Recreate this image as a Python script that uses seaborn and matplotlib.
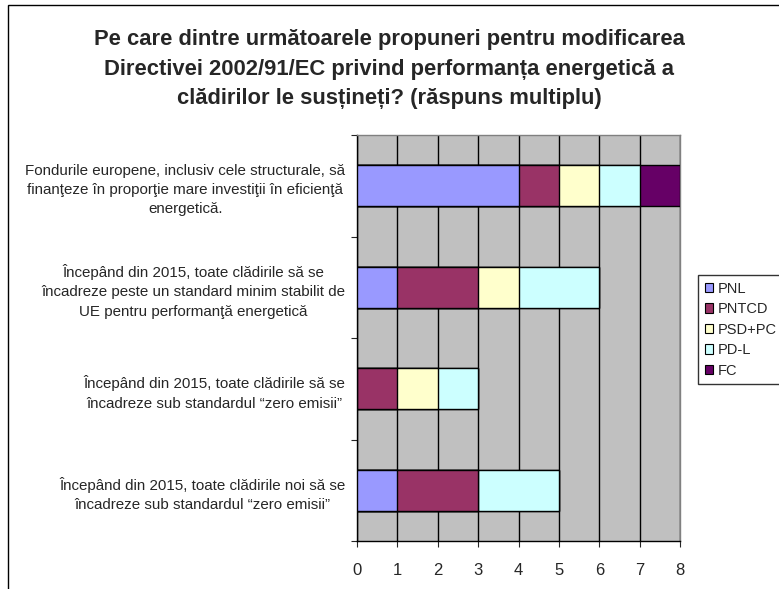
import numpy as np
import pandas as pd
import matplotlib
matplotlib.use("Agg")
import matplotlib.pyplot as plt
import matplotlib.patches as patches
import seaborn as sns

# date
propuneri = [
    "Fondurile europene, inclusiv cele structurale, să\nfinanţeze în proporţie mare investiţii în eficienţă\nenergetică.",
    "Începând din 2015, toate clădirile să se\nîncadreze peste un standard minim stabilit de\nUE pentru performanţă energetică",
    "Începând din 2015, toate clădirile să se\nîncadreze sub standardul \u201czero emisii\u201d",
    "Începând din 2015, toate clădirile noi să se\nîncadreze sub standardul \u201czero emisii\u201d",
]
partide = ["PNL", "PNTCD", "PSD+PC", "PD-L", "FC"]
pnl = [4, 1, 0, 1]
pntcd = [1, 2, 1, 2]
psd_pc = [1, 1, 1, 0]
pdl = [1, 2, 1, 2]
fc = [1, 0, 0, 0]
culori = ["#9999FF", "#993366", "#FFFFCC", "#CCFFFF", "#660066"]

df = pd.DataFrame({"propunere": propuneri, "PNL": pnl, "PNTCD": pntcd,
                   "PSD+PC": psd_pc, "PD-L": pdl, "FC": fc})
cumul = df[partide].cumsum(axis=1)

sns.set_style("white")
plt.rcParams["font.family"] = ["Liberation Sans", "DejaVu Sans"]

fig = plt.figure(figsize=(7.79, 5.89), dpi=100)
ax = fig.add_axes([357 / 779, 1 - 541 / 589, 323 / 779, 406 / 589])
ax.set_facecolor("#C0C0C0")

# bare suprapuse: totalul cumulat, de la ultimul partid spre primul
for partid, culoare in reversed(list(zip(partide, culori))):
    sns.barplot(x=cumul[partid], y=df["propunere"], orient="h", color=culoare,
                width=0.4, edgecolor="black", linewidth=1, saturation=1, ax=ax, zorder=3)

ax.set_xlim(0, 8)
ax.set_ylim(3.5, -0.5)
ax.set_xticks(range(9))
ax.tick_params(axis="x", labelsize=12, length=4, direction="out", bottom=True, pad=12)
ax.xaxis.grid(True, color="black", linewidth=1, zorder=0)
ax.set_axisbelow(True)

ax.set_yticks([-0.5, 0.5, 1.5, 2.5, 3.5])
ax.set_yticklabels([])
ax.set_yticks(range(4), minor=True)
ax.set_yticklabels(propuneri, minor=True)
ax.tick_params(axis="y", which="major", length=4, direction="out", left=True)
ax.tick_params(axis="y", which="minor", length=0, pad=8.5, labelsize=10.9)
for lbl in ax.get_yticklabels(minor=True):
    lbl.set_multialignment("center")
    lbl.set_linespacing(1.48)
ax.set_xlabel("")
ax.set_ylabel("")

for s in ["left", "bottom"]:
    ax.spines[s].set_color("black")
    ax.spines[s].set_linewidth(1)
for s in ["top", "right"]:
    ax.spines[s].set_color("#808080")
    ax.spines[s].set_linewidth(1)

fig.text(389 / 779, 1 - 69 / 589,
         "Pe care dintre următoarele propuneri pentru modificarea\n"
         "Directivei 2002/91/EC privind performanța energetică a\n"
         "clădirilor le susțineți? (răspuns multiplu)",
         ha="center", va="center", fontsize=15.8, fontweight="bold", linespacing=1.55)

handles = [patches.Patch(facecolor=c, edgecolor="black", linewidth=0.8, label=p)
           for p, c in zip(partide, culori)]
leg = fig.legend(handles=handles, loc="upper left",
                 bbox_to_anchor=(698 / 779, 1 - 275 / 589), fontsize=10.5,
                 frameon=True, fancybox=False, edgecolor="black",
                 handlelength=0.6, handleheight=0.6, handletextpad=0.3,
                 labelspacing=0.45, borderpad=0.45, borderaxespad=0)
leg.get_frame().set_linewidth(1)

# chenarul graficului
fig.patches.append(patches.Rectangle((8 / 779, -0.1), 1.2, 1.1 - 5 / 589, fill=False,
                                     edgecolor="black", linewidth=1,
                                     transform=fig.transFigure, figure=fig))

fig.savefig("out.png", dpi=100)
